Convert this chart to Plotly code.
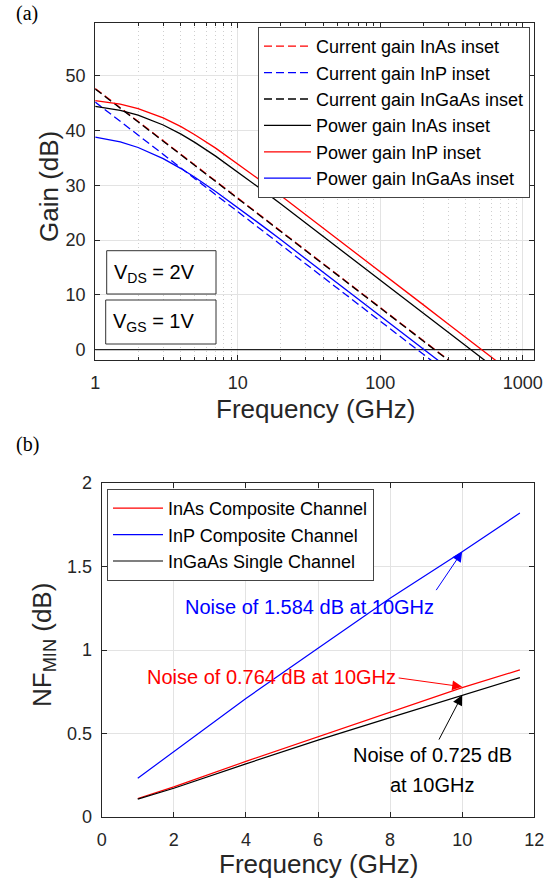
import plotly.graph_objects as go

W, H = 553, 883
FONT = "Liberation Sans, Arial, sans-serif"
TXT = "#262626"
GRID = "#e3e3e3"


def px(xp):
    return xp / W


def py(yp):
    return 1 - yp / H


# ---------------- Panel (a) data: gain vs frequency (GHz) ----------------
f_cg_inas = [1, 305]
g_cg_inas = [47.7, -2.0]

f_cg_inp = [1, 229]
g_cg_inp = [45.2, -2.0]

f_cg_ingaas = [1, 302]
g_cg_ingaas = [47.6, -2.0]

f_pg_inas = [1, 1.5, 2, 3, 4, 5, 7, 10, 15, 20, 30, 50, 100, 200, 300, 544]
g_pg_inas = [44.42, 43.68, 42.82, 41.02, 39.34, 37.84, 35.33, 32.47, 29.08,
             26.63, 23.14, 18.73, 12.71, 6.69, 3.17, -2.0]

f_pg_inp = [1, 1.5, 2, 3, 4, 5, 7, 10, 15, 20, 30, 50, 100, 200, 300, 500, 648]
g_pg_inp = [45.48, 44.81, 44.02, 42.33, 40.71, 39.25, 36.79, 33.96, 30.59,
            28.14, 24.66, 20.24, 14.23, 8.21, 4.69, 0.25, -2.0]

f_pg_ingaas = [1, 1.5, 2, 3, 4, 5, 7, 10, 15, 20, 30, 50, 100, 200, 256]
g_pg_ingaas = [38.82, 37.92, 36.91, 34.88, 33.06, 31.47, 28.88, 25.97, 22.55,
               20.09, 16.59, 12.17, 6.15, 0.13, -2.0]

f_zero = [1, 1300]
g_zero = [0, 0]

a_xticks = [1, 10, 100, 1000]
a_xminor = [2, 3, 4, 5, 6, 7, 8, 9, 20, 30, 40, 50, 60, 70, 80, 90,
            200, 300, 400, 500, 600, 700, 800, 900]
a_yticks = [0, 10, 20, 30, 40, 50]

# ---------------- Panel (b) data: NFmin vs frequency (GHz) ----------------
nf_freq = [1, 2, 4, 6, 8, 10, 11.6]
nf_inas = [0.111, 0.18, 0.333, 0.48, 0.627, 0.775, 0.881]
nf_inp = [0.232, 0.39, 0.71, 1.01, 1.31, 1.589, 1.82]
nf_ingaas = [0.107, 0.172, 0.318, 0.46, 0.595, 0.728, 0.835]

b_xticks = [0, 2, 4, 6, 8, 10, 12]
b_yticks = [0, 0.5, 1, 1.5, 2]

fig = go.Figure()

DASH = "8px,4px"
LW = 1.3

# Panel (a) traces
fig.add_trace(go.Scatter(x=f_zero, y=g_zero, mode="lines", line=dict(color="#222", width=1.2),
                         showlegend=False, hoverinfo="skip", xaxis="x", yaxis="y"))
fig.add_trace(go.Scatter(x=f_cg_inas, y=g_cg_inas, mode="lines", name="Current gain InAs inset",
                         line=dict(color="#ff0000", width=LW, dash=DASH), xaxis="x", yaxis="y",
                         legend="legend"))
fig.add_trace(go.Scatter(x=f_cg_inp, y=g_cg_inp, mode="lines", name="Current gain InP inset",
                         line=dict(color="#0000ff", width=LW, dash=DASH), xaxis="x", yaxis="y",
                         legend="legend"))
fig.add_trace(go.Scatter(x=f_cg_ingaas, y=g_cg_ingaas, mode="lines", name="Current gain InGaAs inset",
                         line=dict(color="#000000", width=LW, dash=DASH), xaxis="x", yaxis="y",
                         legend="legend"))
fig.add_trace(go.Scatter(x=f_pg_inas, y=g_pg_inas, mode="lines", name="Power gain InAs inset",
                         line=dict(color="#000000", width=LW), xaxis="x", yaxis="y",
                         legend="legend"))
fig.add_trace(go.Scatter(x=f_pg_inp, y=g_pg_inp, mode="lines", name="Power gain InP inset",
                         line=dict(color="#ff0000", width=LW), xaxis="x", yaxis="y",
                         legend="legend"))
fig.add_trace(go.Scatter(x=f_pg_ingaas, y=g_pg_ingaas, mode="lines", name="Power gain InGaAs inset",
                         line=dict(color="#0000ff", width=LW), xaxis="x", yaxis="y",
                         legend="legend"))

# Panel (b) traces
fig.add_trace(go.Scatter(x=nf_freq, y=nf_inas, mode="lines", name="InAs Composite Channel",
                         line=dict(color="#ff0000", width=1.2), xaxis="x2", yaxis="y2",
                         legend="legend2"))
fig.add_trace(go.Scatter(x=nf_freq, y=nf_inp, mode="lines", name="InP Composite Channel",
                         line=dict(color="#0000ff", width=1.2), xaxis="x2", yaxis="y2",
                         legend="legend2"))
fig.add_trace(go.Scatter(x=nf_freq, y=nf_ingaas, mode="lines", name="InGaAs Single Channel",
                         line=dict(color="#000000", width=1.2), xaxis="x2", yaxis="y2",
                         legend="legend2"))

axis_common = dict(
    showline=True, linecolor=TXT, linewidth=1, mirror="allticks",
    ticks="inside", ticklen=5, tickcolor=TXT, tickwidth=1,
    showgrid=True, gridcolor=GRID, gridwidth=1, zeroline=False, automargin=False,
    tickfont=dict(family=FONT, size=18, color=TXT),
)

fig.update_layout(
    width=W, height=H,
    margin=dict(l=0, r=0, t=0, b=0, pad=0, autoexpand=False),
    paper_bgcolor="white", plot_bgcolor="white",
    font=dict(family=FONT, color=TXT),
    xaxis=dict(type="log", range=[0, 3.0814], domain=[px(95.2), px(534.3)], anchor="y",
               tickmode="array", tickvals=a_xticks, ticktext=[str(v) for v in a_xticks],
               ticklabelstandoff=6,
               minor=dict(tickmode="array", tickvals=a_xminor, ticks="inside", ticklen=3,
                          tickcolor=TXT, showgrid=True, gridcolor="#cfcfcf",
                          griddash="1px,3px", gridwidth=1),
               **axis_common),
    yaxis=dict(range=[-1.9, 59.7], domain=[py(360), py(22.7)], anchor="x",
               tickmode="array", tickvals=a_yticks, ticklabelstandoff=5, **axis_common),
    xaxis2=dict(range=[0, 12], domain=[px(101.7), px(534.3)], anchor="y2",
                tickmode="array", tickvals=b_xticks, ticklabelstandoff=6, **axis_common),
    yaxis2=dict(range=[0, 2], domain=[py(817), py(483)], anchor="x2",
                tickmode="array", tickvals=b_yticks, ticktext=["0", "0.5", "1", "1.5", "2"],
                ticklabelstandoff=5, **axis_common),
    legend=dict(x=px(258), y=py(27), xanchor="left", yanchor="top",
                bgcolor="white", bordercolor="#444444", borderwidth=1,
                font=dict(family=FONT, size=18, color="#000"), itemwidth=47,
                tracegroupgap=0, traceorder="normal"),
    legend2=dict(x=px(107), y=py(489), xanchor="left", yanchor="top",
                 bgcolor="white", bordercolor="#444444", borderwidth=1,
                 font=dict(family=FONT, size=18, color="#000"), itemwidth=50,
                 tracegroupgap=0, traceorder="normal"),
    showlegend=True,
)

# V_DS / V_GS boxes
fig.add_shape(type="rect", xref="paper", yref="paper", x0=px(106.7), x1=px(216),
              y0=py(294), y1=py(250.7), line=dict(color="#333333", width=1), fillcolor="white")
fig.add_shape(type="rect", xref="paper", yref="paper", x0=px(105.7), x1=px(216),
              y0=py(344), y1=py(300), line=dict(color="#333333", width=1), fillcolor="white")

annos = []
annos.append(dict(text="V<sub>DS</sub> = 2V", xref="paper", yref="paper", x=px(112), y=py(273),
                  xanchor="left", yanchor="middle", showarrow=False,
                  font=dict(family=FONT, size=20, color="#000")))
annos.append(dict(text="V<sub>GS</sub> = 1V", xref="paper", yref="paper", x=px(111), y=py(322),
                  xanchor="left", yanchor="middle", showarrow=False,
                  font=dict(family=FONT, size=20, color="#000")))

# axis titles
annos.append(dict(text="Gain (dB)", xref="paper", yref="paper", x=px(49), y=py(187),
                  xanchor="center", yanchor="middle", textangle=-90, showarrow=False,
                  font=dict(family=FONT, size=26, color=TXT)))
annos.append(dict(text="Frequency (GHz)", xref="paper", yref="paper", x=px(315), y=py(409),
                  xanchor="center", yanchor="middle", showarrow=False,
                  font=dict(family=FONT, size=26, color=TXT)))
annos.append(dict(text="NF<sub>MIN</sub> (dB)", xref="paper", yref="paper", x=px(43), y=py(645),
                  xanchor="center", yanchor="middle", textangle=-90, showarrow=False,
                  font=dict(family=FONT, size=26, color=TXT)))
annos.append(dict(text="Frequency (GHz)", xref="paper", yref="paper", x=px(318), y=py(864),
                  xanchor="center", yanchor="middle", showarrow=False,
                  font=dict(family=FONT, size=26, color=TXT)))

# panel labels
annos.append(dict(text="(a)", xref="paper", yref="paper", x=px(14), y=py(14),
                  xanchor="left", yanchor="middle", showarrow=False,
                  font=dict(family="Liberation Serif, Times New Roman, serif", size=20, color="#000")))
annos.append(dict(text="(b)", xref="paper", yref="paper", x=px(14), y=py(444),
                  xanchor="left", yanchor="middle", showarrow=False,
                  font=dict(family="Liberation Serif, Times New Roman, serif", size=20, color="#000")))

# noise annotations (text)
annos.append(dict(text="Noise of 1.584 dB at 10GHz", xref="paper", yref="paper", x=px(183), y=py(607),
                  xanchor="left", yanchor="middle", showarrow=False,
                  font=dict(family=FONT, size=20, color="#0000ff")))
annos.append(dict(text="Noise of 0.764 dB at 10GHz", xref="paper", yref="paper", x=px(145), y=py(677),
                  xanchor="left", yanchor="middle", showarrow=False,
                  font=dict(family=FONT, size=20, color="#ff0000")))
annos.append(dict(text="Noise of 0.725 dB", xref="paper", yref="paper", x=px(432), y=py(755),
                  xanchor="center", yanchor="middle", showarrow=False,
                  font=dict(family=FONT, size=20, color="#000")))
annos.append(dict(text="at 10GHz", xref="paper", yref="paper", x=px(432), y=py(785),
                  xanchor="center", yanchor="middle", showarrow=False,
                  font=dict(family=FONT, size=20, color="#000")))

# arrows
annos.append(dict(text="", x=10, y=1.589, xref="x2", yref="y2", showarrow=True,
                  ax=-27, ay=40, arrowcolor="#0000ff", arrowwidth=1, arrowhead=2, arrowsize=2))
annos.append(dict(text="", x=10, y=0.78, xref="x2", yref="y2", showarrow=True,
                  ax=-65, ay=-9, arrowcolor="#ff0000", arrowwidth=1, arrowhead=2, arrowsize=2))
annos.append(dict(text="", x=10, y=0.73, xref="x2", yref="y2", showarrow=True,
                  ax=-24, ay=46, arrowcolor="#000000", arrowwidth=1, arrowhead=2, arrowsize=2))

fig.update_layout(annotations=annos)

fig.write_html("out.html")
